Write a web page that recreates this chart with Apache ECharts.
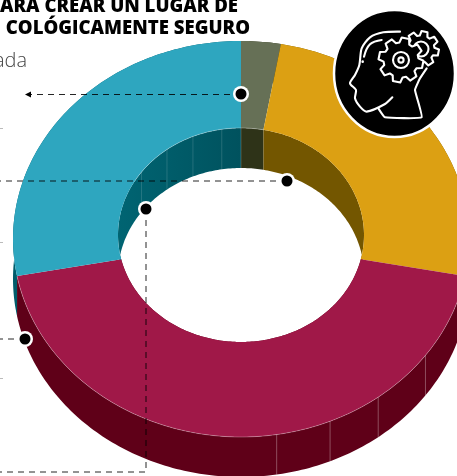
<!DOCTYPE html>
<html>
<head>
<meta charset="utf-8">
<style>
  html, body { margin: 0; padding: 0; background: #fff; }
  #main { width: 457px; height: 476px; overflow: hidden; }
</style>
<script src="https://cdn.jsdelivr.net/npm/echarts@6/dist/echarts.min.js"></script>
</head>
<body>
<div id="main"></div>
<script>
// porcentaje de cada rebanada, en sentido horario desde arriba
var sliceNames = ['A', 'B', 'C', 'D'];
var sliceValues = [2.8, 25.2, 44, 28];
var topColors = ['#667056', '#dca013', '#a01848', '#2ea6bf'];
var outerWallColors = ['#2e3318', '#735600', '#5f0018', '#005c6b'];
var innerWallColors = ['#2e3318', '#735600', '#5f0018', '#00565f'];
var seamAngles = [9, 23, 37, 54];

var OUTER = { cx: 241, cy: 239, rx: 228, ry: 198 };
var INNER = { cx: 241, cy: 235, rx: 123, ry: 107 };
var CENTER = [241, 240]; // donde convergen los cortes
var DEPTH = 40;

// angulo acumulado de cada rebanada
var total = sliceValues.reduce(function (a, b) { return a + b }, 0);
var acc = 0;
var sliceData = sliceValues.map(function (v, i) {
  var start = acc / total * 360;
  acc += v;
  return { name: sliceNames[i], value: [start, acc / total * 360] };
});

function pt(e, deg, dy) {
  var t = deg * Math.PI / 180;
  return [e.cx + e.rx * Math.sin(t), e.cy - e.ry * Math.cos(t) + (dy || 0)];
}
function arc(e, a, b, dy) {
  var n = Math.max(2, Math.ceil(Math.abs(b - a)));
  var out = [];
  for (var i = 0; i <= n; i++) out.push(pt(e, a + (b - a) * i / n, dy));
  return out;
}
function band(e, a, b) {
  return arc(e, a, b, 0).concat(arc(e, b, a, DEPTH));
}
// el corte va recto hacia CENTER, asi que el angulo en el hueco es otro
function innerAngle(deg) {
  var o = pt(OUTER, deg, 0);
  var dx = (o[0] - CENTER[0]) / INNER.rx, dy = (o[1] - CENTER[1]) / INNER.ry;
  var px = (CENTER[0] - INNER.cx) / INNER.rx, py = (CENTER[1] - INNER.cy) / INNER.ry;
  var A = dx * dx + dy * dy, B = 2 * (px * dx + py * dy), C = px * px + py * py - 1;
  var t = (-B + Math.sqrt(B * B - 4 * A * C)) / (2 * A);
  var phi = Math.atan2(px + t * dx, -(py + t * dy)) * 180 / Math.PI;
  if (phi < 0) phi += 360;
  if (deg >= 359.99) phi = 360;
  return phi;
}

function renderWalls(params, api) {
  var a = api.value(0), b = api.value(1), i = params.dataIndex;
  var innerFill = innerWallColors[i];
  if (i === 3) {
    innerFill = { type: 'linear', x: 0, y: 0, x2: 1, y2: 0, colorStops: [
      { offset: 0, color: '#006472' }, { offset: 1, color: '#00525e' }
    ] };
  }
  return {
    type: 'group',
    children: [
      { type: 'polygon', shape: { points: band(OUTER, a, b) }, style: { fill: outerWallColors[i] } },
      { type: 'polygon', shape: { points: band(INNER, innerAngle(a), innerAngle(b)) }, style: { fill: innerFill } }
    ]
  };
}

function renderTops(params, api) {
  var a = api.value(0), b = api.value(1);
  return {
    type: 'polygon',
    shape: { points: arc(OUTER, a, b, 0).concat(arc(INNER, innerAngle(b), innerAngle(a), 0)) },
    style: { fill: topColors[params.dataIndex] }
  };
}

// bordes claros y costuras de las paredes, solo una vez
function renderSeams(params) {
  if (params.dataIndex !== 0) return null;
  var kids = [];
  var edge = { stroke: 'rgba(255,255,255,0.35)', lineWidth: 0.8, fill: null };
  kids.push({ type: 'polyline', shape: { points: arc(OUTER, 100.8, 259.2, 0) }, style: edge });
  kids.push({ type: 'polyline', shape: { points: arc(INNER, -60, 11, 0) }, style: edge });
  seamAngles.forEach(function (s) {
    kids.push({ type: 'line', shape: toLine(pt(OUTER, 180 - s, 0), pt(OUTER, 180 - s, DEPTH)), style: { stroke: 'rgba(255,255,255,0.3)', lineWidth: 1 } });
    kids.push({ type: 'line', shape: toLine(pt(INNER, -s, 0), pt(INNER, -s, DEPTH)), style: { stroke: 'rgba(255,255,255,0.14)', lineWidth: 1 } });
  });
  kids.push({ type: 'line', shape: toLine(pt(INNER, 0, 0), pt(INNER, 0, DEPTH)), style: { stroke: 'rgba(255,255,255,0.2)', lineWidth: 1 } });
  return { type: 'group', children: kids };
}
function toLine(p, q) { return { x1: p[0], y1: p[1], x2: q[0], y2: q[1] } }

function pieLayer(render, z) {
  return {
    type: 'custom',
    coordinateSystem: 'none',
    renderItem: render,
    data: sliceData,
    z: z,
    silent: true,
    animation: false
  };
}

// lineas guia
var DASH = { stroke: 'rgba(0,0,0,0.85)', lineWidth: 1, lineDash: [6, 5], fill: null };
function leader(points) {
  return { type: 'polyline', z: 50, shape: { points: points }, style: DASH };
}
function dot(x, y) {
  return { type: 'group', z: 51, children: [
    { type: 'circle', z: 51, shape: { cx: x, cy: y, r: 8 }, style: { fill: '#fff' } },
    { type: 'circle', z: 52, shape: { cx: x, cy: y, r: 5.5 }, style: { fill: '#000' } }
  ] };
}
function speck(y) {
  return { type: 'line', z: 40, shape: { x1: 0, y1: y, x2: 3, y2: y }, style: { stroke: '#bbb', lineWidth: 1 } };
}

// icono: cabeza con engranajes
function zp(list) {
  return list.map(function (p) { return [320 + p[0] / 3, p[1] / 3] });
}
function gear(cx, cy, rOut, rIn, teeth) {
  var pts = [], step = Math.PI * 2 / teeth;
  for (var i = 0; i < teeth; i++) {
    var t = i * step + 0.2;
    [[-0.3, rIn], [-0.17, rOut], [0.17, rOut], [0.3, rIn]].forEach(function (k) {
      var a = t + k[0] * step * 1.25;
      pts.push([cx + k[1] * Math.cos(a), cy + k[1] * Math.sin(a)]);
    });
  }
  return pts;
}
var LINE = { stroke: '#fff', lineWidth: 2.1, fill: null, lineJoin: 'round', lineCap: 'round' };
function iconLine(points, smooth) {
  return { type: 'polyline', z: 62, shape: { points: zp(points), smooth: smooth || 0 }, style: LINE };
}

var graphics = [
  { type: 'text', z: 70, x: 238, y: 16, style: { text: 'ARA CREAR UN LUGAR DE', font: '800 18.6px "Open Sans"', fill: '#000', align: 'right', verticalAlign: 'bottom' } },
  { type: 'text', z: 70, x: 250, y: 38, style: { text: 'COLÓGICAMENTE SEGURO', font: '800 18.6px "Open Sans"', fill: '#000', align: 'right', verticalAlign: 'bottom' } },
  { type: 'text', z: 70, x: 27, y: 71, style: { text: 'ada', font: '300 20px "Open Sans"', fill: '#444', align: 'right', verticalAlign: 'bottom' } },
  speck(128.5), speck(242.5), speck(378.5),

  leader([[241, 94.5], [31, 94.5]]),
  { type: 'polygon', z: 50, shape: { points: [[25, 94.5], [31, 91.5], [31, 97.5]] }, style: { fill: '#000' } },
  leader([[287, 181], [0, 181]]),
  leader([[146, 209], [146, 472], [0, 472]]),
  leader([[25, 339], [0, 339]]),
  dot(241, 94),
  dot(287, 181),
  dot(146, 209),
  dot(25, 339),

  { type: 'ellipse', z: 60, shape: { cx: 394.5, cy: 73.5, rx: 60.5, ry: 63.5 }, style: { fill: '#000', stroke: '#fff', lineWidth: 2.5 } },
  iconLine([[240, 95], [190, 97], [150, 112], [125, 145], [118, 195], [105, 225], [90, 250], [108, 270], [105, 295], [120, 320], [140, 335], [195, 312], [217, 292]], 0.25),
  iconLine([[185, 120], [150, 133], [132, 170]], 0.4),
  iconLine([[175, 325], [195, 352], [305, 352], [285, 270], [300, 235], [320, 205]], 0.1),
  { type: 'circle', z: 62, shape: { cx: 320 + 128 / 3, cy: 185 / 3, r: 1.3 }, style: { fill: '#fff' } },
  { type: 'polygon', z: 62, shape: { points: gear(421, 49, 18, 13.5, 8) }, style: LINE },
  { type: 'circle', z: 62, shape: { cx: 421, cy: 49, r: 7.5 }, style: LINE },
  { type: 'polygon', z: 63, shape: { points: gear(401, 60, 22.5, 17.5, 8) }, style: { fill: '#000', stroke: '#fff', lineWidth: 2.1, lineJoin: 'round' } },
  { type: 'circle', z: 64, shape: { cx: 401, cy: 60, r: 8 }, style: LINE },
  { type: 'circle', z: 64, shape: { cx: 401, cy: 60, r: 2.6 }, style: LINE }
];

var chart = echarts.init(document.getElementById('main'), null, { width: 457, height: 476 });
chart.setOption({
  animation: false,
  backgroundColor: '#fff',
  series: [
    pieLayer(renderWalls, 2),
    pieLayer(renderTops, 3),
    pieLayer(renderSeams, 4)
  ],
  graphic: { elements: graphics }
});
</script>
</body>
</html>
